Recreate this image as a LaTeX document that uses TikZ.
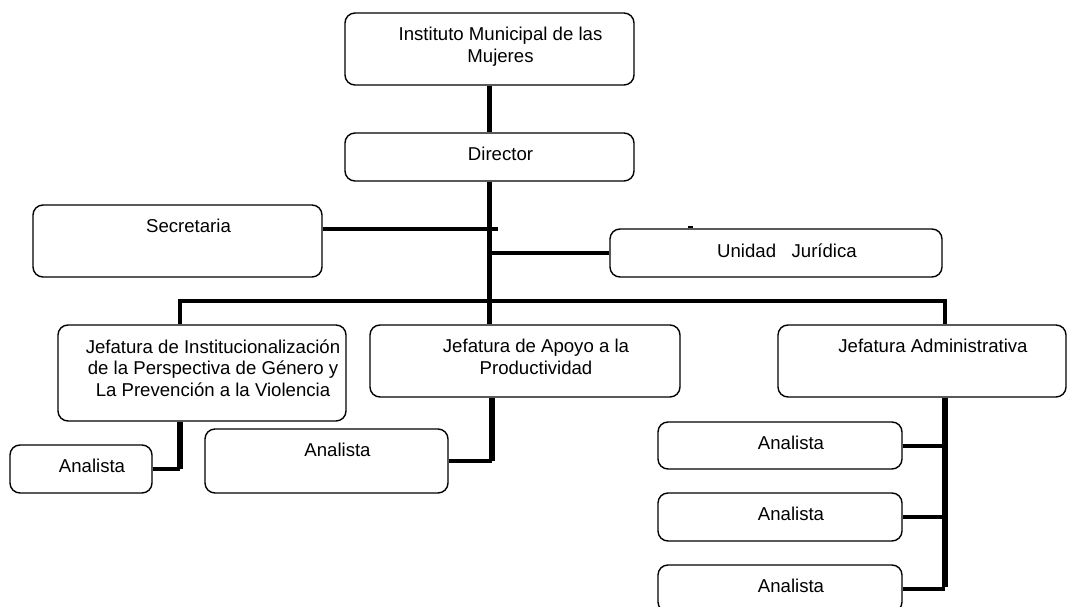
\documentclass[tikz,border=0pt]{standalone}
\usepackage{fontspec}
\setmainfont{Liberation Sans}
\begin{document}
\begin{tikzpicture}[x=1pt, y=-1pt,
  unit/.style={draw, line width=1.4pt, rounded corners=10pt},
  boxtext/.style={anchor=north, inner sep=0pt, yshift=-15pt, xshift=11pt, align=center, font=\fontsize{18.6}{21.5}\selectfont},
  bar/.style={line width=5.5pt},
  link/.style={line width=4pt}]
	\useasboundingbox (0,0) rectangle (1070,607);
	\node[unit, minimum width=289pt, minimum height=72pt, label={[boxtext]above:Instituto Municipal de las\\Mujeres}] (inst) at (489.5,49) {};
	\node[unit, minimum width=289pt, minimum height=48pt, label={[boxtext]above:Director}] (dir) at (489.5,157) {};
	\node[unit, minimum width=289pt, minimum height=72pt, label={[boxtext]above:Secretaria}] (sec) at (177.5,241) {};
	\node[unit, minimum width=332pt, minimum height=48pt, label={[boxtext]above:Unidad~~~Jurídica}] (uj) at (776,253) {};
	\node[unit, minimum width=288pt, minimum height=96pt, label={[boxtext]above:Jefatura de Institucionalización\\de la Perspectiva de Género y\\La Prevención a la Violencia}] (jin) at (202,373) {};
	\node[unit, minimum width=310pt, minimum height=72pt, label={[boxtext]above:Jefatura de Apoyo a la\\Productividad}] (jap) at (525,361) {};
	\node[unit, minimum width=288pt, minimum height=72pt, label={[boxtext]above:Jefatura Administrativa}] (jad) at (922,361) {};
	\node[unit, minimum width=142pt, minimum height=48pt, label={[boxtext]above:Analista}] (an1) at (81,469) {};
	\node[unit, minimum width=243pt, minimum height=64pt, label={[boxtext]above:Analista}] (an2) at (326.5,461) {};
	\node[unit, minimum width=244pt, minimum height=47pt, label={[boxtext]above:Analista}] (ana) at (780,445.5) {};
	\node[unit, minimum width=244pt, minimum height=48pt, label={[boxtext]above:Analista}] (anb) at (780,517) {};
	\node[unit, minimum width=244pt, minimum height=47pt, label={[boxtext]above:Analista}] (anc) at (780,588.5) {};
	% joints of the lines
	\coordinate (secj) at (498,229);
	\coordinate (tick) at (690,225.5);
	\coordinate (busL) at (180,301);
	\coordinate (busR) at (945,301);
	\coordinate (japd) at (492,400);
	\draw[bar] (inst) -- (dir);
	\draw[bar] (dir) -- (dir |- jap.north);
	\draw[link] (sec.east |- secj) -- (secj);
	\draw[link] (dir |- uj) -- (uj.west);
	\draw[line width=5pt] (tick) -- (tick |- uj.north);
	\draw[link] (busL |- jin.north) -- (busL) -- (busR) -- (busR |- jad.north);
	\draw[bar] (busL |- jin.south) -- (busL |- an1);
	\draw[link] (busL |- an1) -- (an1);
	\draw[bar] (japd |- jap.south) -- (japd |- an2);
	\draw[link] (japd |- an2) -- (an2);
	\draw[bar] (busR |- jad.south) -- ([yshift=2pt]busR |- anc);
	\foreach \a in {ana,anb,anc}
		\draw[link] (busR |- \a) -- (\a);
\end{tikzpicture}
\end{document}
